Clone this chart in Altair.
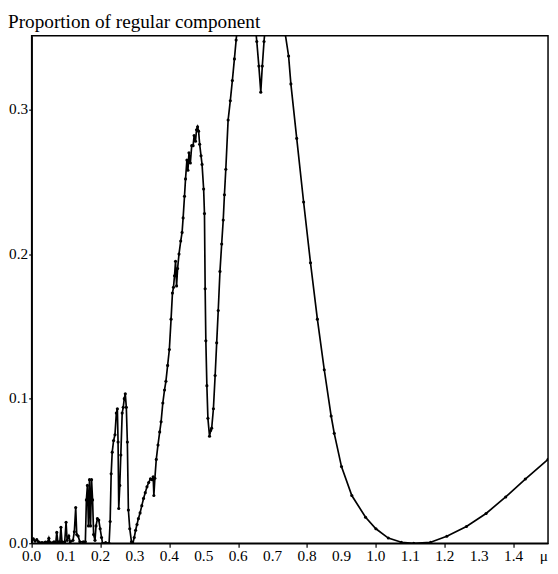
import altair as alt
import pandas as pd

# control parameter mu (x) and proportion of regular component (y)
mu = [0.0, 0.005, 0.01, 0.015, 0.02, 0.03, 0.04, 0.047, 0.05, 0.053, 0.065, 0.07, 0.073, 0.076,
      0.082, 0.085, 0.088, 0.096, 0.1, 0.103, 0.108, 0.112, 0.12, 0.124, 0.128, 0.131, 0.135,
      0.14, 0.15, 0.156, 0.159, 0.162, 0.165, 0.168, 0.171, 0.174, 0.177, 0.18, 0.184, 0.187,
      0.191, 0.195, 0.199, 0.203, 0.206, 0.215, 0.225, 0.228, 0.231, 0.234, 0.238, 0.242, 0.246,
      0.249, 0.251, 0.253, 0.256, 0.259, 0.263, 0.266, 0.269, 0.272, 0.275, 0.278, 0.281, 0.285,
      0.29, 0.294, 0.298, 0.302, 0.306, 0.31, 0.315, 0.32, 0.325, 0.33, 0.335, 0.34, 0.345, 0.35,
      0.353, 0.355, 0.358, 0.362, 0.367, 0.372, 0.376, 0.381, 0.386, 0.39, 0.395, 0.4, 0.405,
      0.409, 0.412, 0.415, 0.418, 0.421, 0.424, 0.428, 0.433, 0.437, 0.44, 0.444, 0.447, 0.451,
      0.454, 0.457, 0.461, 0.465, 0.469, 0.472, 0.476, 0.479, 0.482, 0.485, 0.488, 0.492, 0.495,
      0.4996, 0.502, 0.504, 0.506, 0.509, 0.512, 0.5167, 0.52, 0.523, 0.528, 0.533, 0.5375, 0.542,
      0.547, 0.552, 0.5565, 0.56, 0.564, 0.5707, 0.577, 0.583, 0.589, 0.594, 0.61, 0.63, 0.645,
      0.654, 0.66, 0.6656, 0.67, 0.675, 0.69, 0.71, 0.727, 0.737, 0.7464, 0.753, 0.77, 0.79,
      0.81, 0.83, 0.85, 0.87, 0.879, 0.9, 0.93, 0.97, 1.0, 1.036, 1.074, 1.11, 1.159, 1.206,
      1.263, 1.32, 1.377, 1.434, 1.5]

proportion = [0.001, 0.003, 0.0015, 0.0025, 0.001, 0.0005, 0.0008, 0.001, 0.0035, 0.0005, 0.001,
              0.0002, 0.0075, 0.001, 0.001, 0.011, 0.001, 0.001, 0.0145, 0.002, 0.005, 0.001,
              0.002, 0.008, 0.0247, 0.006, 0.005, 0.001, 0.001, 0.001, 0.03, 0.04, 0.012, 0.044,
              0.012, 0.044, 0.03, 0.006, 0.002, 0.012, 0.017, 0.016, 0.01, 0.004, 0.0, 0.0005,
              0.0, 0.015, 0.048, 0.063, 0.071, 0.075, 0.09, 0.093, 0.07, 0.024, 0.04, 0.061, 0.09,
              0.094, 0.1, 0.1034, 0.094, 0.07, 0.023, 0.01, 0.001, 0.0, 0.004, 0.009, 0.013,
              0.017, 0.021, 0.026, 0.031, 0.035, 0.039, 0.042, 0.0445, 0.044, 0.046, 0.033, 0.045,
              0.058, 0.068, 0.077, 0.084, 0.097, 0.106, 0.112, 0.123, 0.134, 0.155, 0.173, 0.177,
              0.185, 0.195, 0.178, 0.19, 0.2, 0.209, 0.215, 0.225, 0.24, 0.252, 0.265, 0.258,
              0.27, 0.263, 0.275, 0.275, 0.282, 0.278, 0.286, 0.288, 0.285, 0.276, 0.268, 0.262,
              0.245, 0.228, 0.176, 0.14, 0.109, 0.0864, 0.074, 0.078, 0.0796, 0.093, 0.116,
              0.1386, 0.161, 0.188, 0.207, 0.2236, 0.241, 0.2587, 0.2927, 0.306, 0.32, 0.335,
              0.348, 0.39, 0.4, 0.37, 0.347, 0.33, 0.312, 0.33, 0.347, 0.39, 0.4, 0.37, 0.3517,
              0.337, 0.3177, 0.28, 0.236, 0.194, 0.155, 0.12, 0.088, 0.076, 0.053, 0.033, 0.018,
              0.01, 0.0036, 0.0007, 0.0, 0.0007, 0.0048, 0.0116, 0.0206, 0.032, 0.0444, 0.058]

x_ticks = [0.0, 0.1, 0.2, 0.3, 0.4, 0.5, 0.6, 0.7, 0.8, 0.9, 1.0, 1.1, 1.2, 1.3, 1.4, 1.5]
x_tick_labels = ["0.0", "0.1", "0.2", "0.3", "0.4", "0.5", "0.6", "0.7", "0.8", "0.9",
                 "1.0", "1.1", "1.2", "1.3", "1.4"]
x_axis_name = "μ"
y_ticks = [0.0, 0.1, 0.2, 0.3]

df = pd.DataFrame({"mu": mu, "p": proportion})
lab_df = pd.DataFrame({"tick": x_ticks[:-1], "label": x_tick_labels})
name_df = pd.DataFrame({"tick": [x_ticks[-1]], "label": [x_axis_name]})

FONT = "Liberation Serif"
W, H = 524, 515

x_scale = alt.Scale(domain=[0, 1.5], nice=False, zero=False)
x_enc = alt.X(
    "mu:Q",
    scale=x_scale,
    axis=alt.Axis(values=x_ticks, title=None, grid=False, labels=False,
                  tickSize=4, tickColor="black", tickWidth=1.2,
                  domainColor="black", domainWidth=1.5),
)
y_enc = alt.Y(
    "p:Q",
    scale=alt.Scale(domain=[0, 0.351], nice=False, zero=True),
    axis=alt.Axis(values=y_ticks, title=None, grid=False, format=".1f",
                  labelFont=FONT, labelFontSize=15.5, labelColor="black",
                  labelPadding=1, labelOffset=-1, tickSize=3, tickColor="black",
                  tickWidth=1.2, domainColor="black", domainWidth=1.5,
                  labelFlush=False, labelOverlap=False),
)

base = alt.Chart(df)
line = base.mark_line(color="black", strokeWidth=1.7, clip=True).encode(x=x_enc, y=y_enc)
pts = base.mark_point(filled=True, color="black", size=10, opacity=1, clip=True).encode(
    x="mu:Q", y="p:Q")

tick_text = alt.Chart(lab_df).mark_text(
    font=FONT, fontSize=15.5, color="black", align="center", baseline="top"
).encode(x=alt.X("tick:Q", scale=x_scale), y=alt.value(H + 6), text="label:N")

name_text = alt.Chart(name_df).mark_text(
    font=FONT, fontSize=15.5, color="black", align="right", baseline="top"
).encode(x=alt.X("tick:Q", scale=x_scale), y=alt.value(H + 6), text="label:N")

chart = alt.layer(line, pts, tick_text, name_text).properties(
    width=W,
    height=H,
    title=alt.TitleParams("Proportion of regular component", anchor="start", frame="group",
                          dx=-24, offset=3, font=FONT,
                          fontSize=19.5, fontWeight="normal", color="black"),
    padding={"left": 24, "top": 24, "right": 2, "bottom": 24},
    autosize="none",
).configure_view(stroke="black", strokeWidth=1.5)

chart.save("out.html", embed_options={"renderer": "svg", "actions": False})
